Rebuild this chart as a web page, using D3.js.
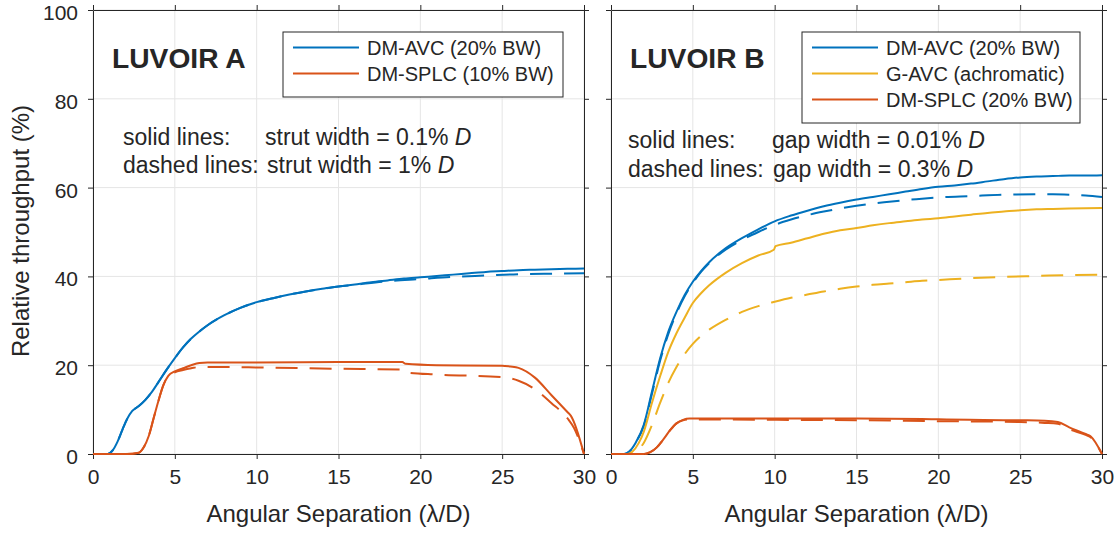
<!DOCTYPE html>
<html>
<head>
<meta charset="utf-8">
<script src="https://cdn.jsdelivr.net/npm/d3@7"></script>
<style>
  body { margin: 0; background: #fff; }
  text { font-family: "Liberation Sans", Arial, Helvetica, sans-serif; fill: #262626; }
</style>
</head>
<body>
<svg id="chart" width="1117" height="533"></svg>
<script>
// ---- data ----
const xTicks = [0, 5, 10, 15, 20, 25, 30];
const yTicks = [0, 20, 40, 60, 80, 100];

// LUVOIR A
const aAvcSolid = [[0,0],[0.9,0],[1.2,0.8],[1.5,2.8],[1.8,5.5],[2.1,8],[2.4,9.7],[2.8,10.8],[3.2,12.2],[3.6,14],[4,16.2],[4.5,19],[5,21.6],[5.5,24],[6,26],[6.5,27.6],[7,29],[8,31.2],[9,32.9],[10,34.2],[11,35.1],[12,35.9],[13,36.6],[14,37.2],[15,37.7],[16,38.2],[17,38.7],[18,39.1],[19,39.5],[20,39.8],[21,40.1],[22,40.4],[23,40.7],[24,41],[25,41.2],[26,41.4],[27,41.5],[28,41.6],[29,41.7],[30,41.8]];
const aAvcDash = [[0,0],[0.9,0],[1.2,0.8],[1.5,2.8],[1.8,5.5],[2.1,8],[2.4,9.7],[2.8,10.8],[3.2,12.2],[3.6,14],[4,16.2],[4.5,19],[5,21.6],[5.5,24],[6,26],[6.5,27.6],[7,29],[8,31.2],[9,32.9],[10,34.2],[11,35.1],[12,35.9],[13,36.6],[14,37.2],[15,37.7],[16,38.1],[18,38.9],[20,39.4],[22,39.9],[24,40.2],[26,40.5],[28,40.6],[30,40.7]];
const aSplcSolid = [[0,0],[2,0],[2.8,0.3],[3.1,1.5],[3.4,4],[3.7,8],[4,12],[4.3,15.5],[4.6,17.6],[5,18.6],[5.5,19.3],[6,20],[6.5,20.5],[7,20.6],[10,20.6],[15,20.7],[18.9,20.7],[19.1,20.3],[21,20],[25,19.9],[25.5,19.7],[26,19.4],[27,17.2],[28,13.3],[29,9.4],[29.2,8.6],[30,0]];
const aSplcDash = [[0,0],[2,0],[2.8,0.3],[3.1,1.5],[3.4,4],[3.7,8],[4,12],[4.3,15.5],[4.6,17.6],[5,18.4],[5.5,18.9],[6,19.3],[6.5,19.6],[7,19.6],[10,19.5],[15,19.2],[18.9,19],[19.1,18.4],[21,17.9],[25,17.3],[26,16.5],[27,14.6],[28,11.5],[29,8],[29.4,5.8],[30,0]];

// LUVOIR B
const bAvcSolid = [[0,0],[0.8,0],[1.1,0.5],[1.5,2.5],[2,6.5],[2.5,14],[3,21.5],[3.5,27.5],[4,32],[4.5,35.8],[5,38.8],[5.5,41.2],[6,43.2],[7,46.3],[8,48.6],[9,50.6],[10,52.4],[11,53.7],[12,54.8],[13,55.8],[14,56.6],[15,57.3],[16,57.9],[17,58.5],[18,59.1],[19,59.7],[20,60.2],[21,60.5],[22,60.9],[23,61.4],[24,61.9],[25,62.3],[26,62.5],[27,62.6],[28,62.7],[29,62.7],[30,62.8]];
const bAvcDash = [[0,0],[0.8,0],[1.1,0.5],[1.5,2.5],[2,6.3],[2.5,13.5],[3,21],[3.5,27],[4,31.7],[4.5,35.5],[5,38.5],[5.5,41],[6,43],[7,46],[8,48.2],[9,50],[10,51.6],[11,52.8],[12,53.8],[13,54.6],[14,55.3],[15,55.9],[16,56.4],[17,56.8],[18,57.2],[19,57.5],[20,57.8],[22,58.1],[24,58.4],[26,58.5],[27,58.5],[28,58.4],[29,58.2],[30,57.9]];
const bGavcSolid = [[0,0],[1,0],[1.3,0.5],[1.7,2.5],[2,5],[2.5,11.5],[3,17.5],[3.5,23],[4,27.2],[4.5,30.7],[5,34],[5.5,36.2],[6,38],[7,40.8],[8,43],[9,44.7],[9.95,46],[10.05,46.8],[11,47.6],[12,48.6],[13,49.6],[14,50.4],[15,50.9],[16,51.5],[17,52],[18,52.4],[19,52.8],[20,53.1],[21,53.5],[22,53.9],[23,54.3],[24,54.6],[25,54.9],[26,55.1],[27,55.2],[28,55.3],[30,55.4]];
const bGavcDash = [[0,0],[1.2,0],[1.5,0.5],[2,2.5],[2.5,6.5],[3,11.5],[3.5,16],[4,19.6],[4.5,22.5],[5,24.8],[5.5,26.6],[6,28],[7,30.2],[8,32],[9,33.3],[10,34.3],[11,35.2],[12,35.9],[13,36.6],[14,37.2],[15,37.7],[16,38.1],[17,38.4],[18,38.7],[19,39],[20,39.2],[22,39.6],[24,39.9],[26,40.1],[28,40.3],[30,40.4]];
const bSplcSolid = [[0,0],[2,0],[2.4,0.4],[2.8,1.5],[3.2,3.3],[3.6,5.3],[4,6.9],[4.4,7.7],[4.8,8],[6,8],[10,8],[15,8],[19,7.9],[20,7.8],[25,7.6],[26.5,7.5],[27.3,7.2],[28,6],[29,4.5],[29.3,4],[30,0]];
const bSplcDash = [[0,0],[2,0],[2.4,0.4],[2.8,1.5],[3.2,3.3],[3.6,5.3],[4,6.9],[4.4,7.6],[4.8,7.8],[10,7.7],[15,7.6],[20,7.4],[25,7.2],[26.5,7],[27.3,6.8],[28,5.6],[29,4.3],[29.3,3.8],[30,0]];

const legendA = ["DM-AVC (20% BW)", "DM-SPLC (10% BW)"];
const legendB = ["DM-AVC (20% BW)", "G-AVC (achromatic)", "DM-SPLC (20% BW)"];

// matlab default colours
const blue = "#0072BD", orange = "#D95319", yellow = "#EDB120";
const axisCol = "#262626", gridCol = "#e5e5e5";

const svg = d3.select("#chart");
const plotTop = 10, plotBottom = 454;

function drawPanel(cfg) {
  const x = d3.scaleLinear().domain([0, 30]).range([cfg.left, cfg.right]);
  const y = d3.scaleLinear().domain([0, 100]).range([plotBottom, plotTop]);
  const g = svg.append("g");

  // grid
  g.selectAll(".gx").data(xTicks).enter().append("line")
    .attr("x1", d => x(d)).attr("x2", d => x(d)).attr("y1", plotTop).attr("y2", plotBottom)
    .attr("stroke", gridCol).attr("stroke-width", 1);
  g.selectAll(".gy").data(yTicks).enter().append("line")
    .attr("y1", d => y(d)).attr("y2", d => y(d)).attr("x1", cfg.left).attr("x2", cfg.right)
    .attr("stroke", gridCol).attr("stroke-width", 1);

  // axes (ticks outward, on all four sides)
  const bot = g.append("g").attr("transform", "translate(0," + plotBottom + ")")
    .call(d3.axisBottom(x).tickValues(xTicks).tickSize(5).tickPadding(10).tickSizeOuter(0));
  const topAx = g.append("g").attr("transform", "translate(0," + plotTop + ")")
    .call(d3.axisTop(x).tickValues(xTicks).tickSize(5).tickFormat("").tickSizeOuter(0));
  const lef = g.append("g").attr("transform", "translate(" + cfg.left + ",0)")
    .call(d3.axisLeft(y).tickValues(yTicks).tickSize(5).tickPadding(10).tickSizeOuter(0)
      .tickFormat(cfg.yLabels ? d3.format("d") : ""));
  lef.selectAll("text").attr("dy", "0.45em");
  const rig = g.append("g").attr("transform", "translate(" + cfg.right + ",0)")
    .call(d3.axisRight(y).tickValues(yTicks).tickSize(5).tickFormat("").tickSizeOuter(0));
  [bot, topAx, lef, rig].forEach(a => {
    a.selectAll("path,line").attr("stroke", axisCol).attr("stroke-width", 1);
    a.selectAll("text").attr("fill", axisCol).style("font-size", "21px")
      .style("font-family", '"Liberation Sans", Arial, sans-serif');
  });

  // lines
  const line = d3.line().x(d => x(d[0])).y(d => y(d[1])).curve(d3.curveMonotoneX);
  cfg.series.forEach(s => {
    g.append("path").datum(s.data)
      .attr("d", line).attr("fill", "none")
      .attr("stroke", s.color).attr("stroke-width", 2)
      .attr("stroke-dasharray", s.dash ? "22,12" : null)
      .attr("stroke-linejoin", "round");
  });

  // x title
  g.append("text").attr("x", (cfg.left + cfg.right) / 2).attr("y", 522)
    .attr("text-anchor", "middle").style("font-size", "24px").attr("fill", axisCol)
    .text("Angular Separation (\u03bb/D)");

  // panel title
  g.append("text").attr("x", cfg.left + 19).attr("y", 68)
    .style("font-size", "28.2px").style("font-weight", "bold").attr("fill", "#000")
    .text(cfg.title);

  // legend box
  const lg = cfg.legend;
  g.append("rect").attr("x", lg.x).attr("y", 32).attr("width", lg.w)
    .attr("height", 7 + lg.items.length * 26 + 6)
    .attr("fill", "#fff").attr("stroke", axisCol).attr("stroke-width", 1);
  lg.items.forEach((t, i) => {
    const yy = 47.5 + i * 26;
    g.append("line").attr("x1", lg.x + 10).attr("x2", lg.x + 76).attr("y1", yy).attr("y2", yy)
      .attr("stroke", lg.colors[i]).attr("stroke-width", 2);
    g.append("text").attr("x", lg.x + 84).attr("y", yy + 7)
      .style("font-size", "20px").attr("fill", "#000").text(t);
  });

  // annotation
  cfg.notes.forEach(n => {
    g.append("text").attr("x", n.x).attr("y", n.y).style("font-size", "23px").attr("fill", "#000")
      .text(n.t);
    if (n.t2) {
      const t = g.append("text").attr("x", n.x2).attr("y", n.y).style("font-size", "23px").attr("fill", "#000");
      t.append("tspan").text(n.t2);
      t.append("tspan").style("font-style", "italic").text("D");
    }
  });
}

drawPanel({
  left: 93, right: 584, yLabels: true, title: "LUVOIR A",
  series: [
    { data: aAvcSolid, color: blue },
    { data: aAvcDash, color: blue, dash: true },
    { data: aSplcSolid, color: orange },
    { data: aSplcDash, color: orange, dash: true }
  ],
  legend: { x: 283, w: 280, items: legendA, colors: [blue, orange] },
  notes: [
    { x: 123, y: 145, t: "solid lines:", x2: 265, t2: "strut width = 0.1% " },
    { x: 123, y: 173, t: "dashed lines:", x2: 267, t2: "strut width = 1% " }
  ]
});

drawPanel({
  left: 611, right: 1102, yLabels: false, title: "LUVOIR B",
  series: [
    { data: bAvcSolid, color: blue },
    { data: bAvcDash, color: blue, dash: true },
    { data: bGavcSolid, color: yellow },
    { data: bGavcDash, color: yellow, dash: true },
    { data: bSplcSolid, color: orange },
    { data: bSplcDash, color: orange, dash: true }
  ],
  legend: { x: 802, w: 278, items: legendB, colors: [blue, yellow, orange] },
  notes: [
    { x: 628, y: 148, t: "solid lines:", x2: 772, t2: "gap width = 0.01% " },
    { x: 628, y: 177, t: "dashed lines:", x2: 773, t2: "gap width = 0.3% " }
  ]
});

// y title
svg.append("text").attr("transform", "translate(29,231) rotate(-90)")
  .attr("text-anchor", "middle").style("font-size", "24px").attr("fill", axisCol)
  .text("Relative throughput (%)");
</script>
</body>
</html>
